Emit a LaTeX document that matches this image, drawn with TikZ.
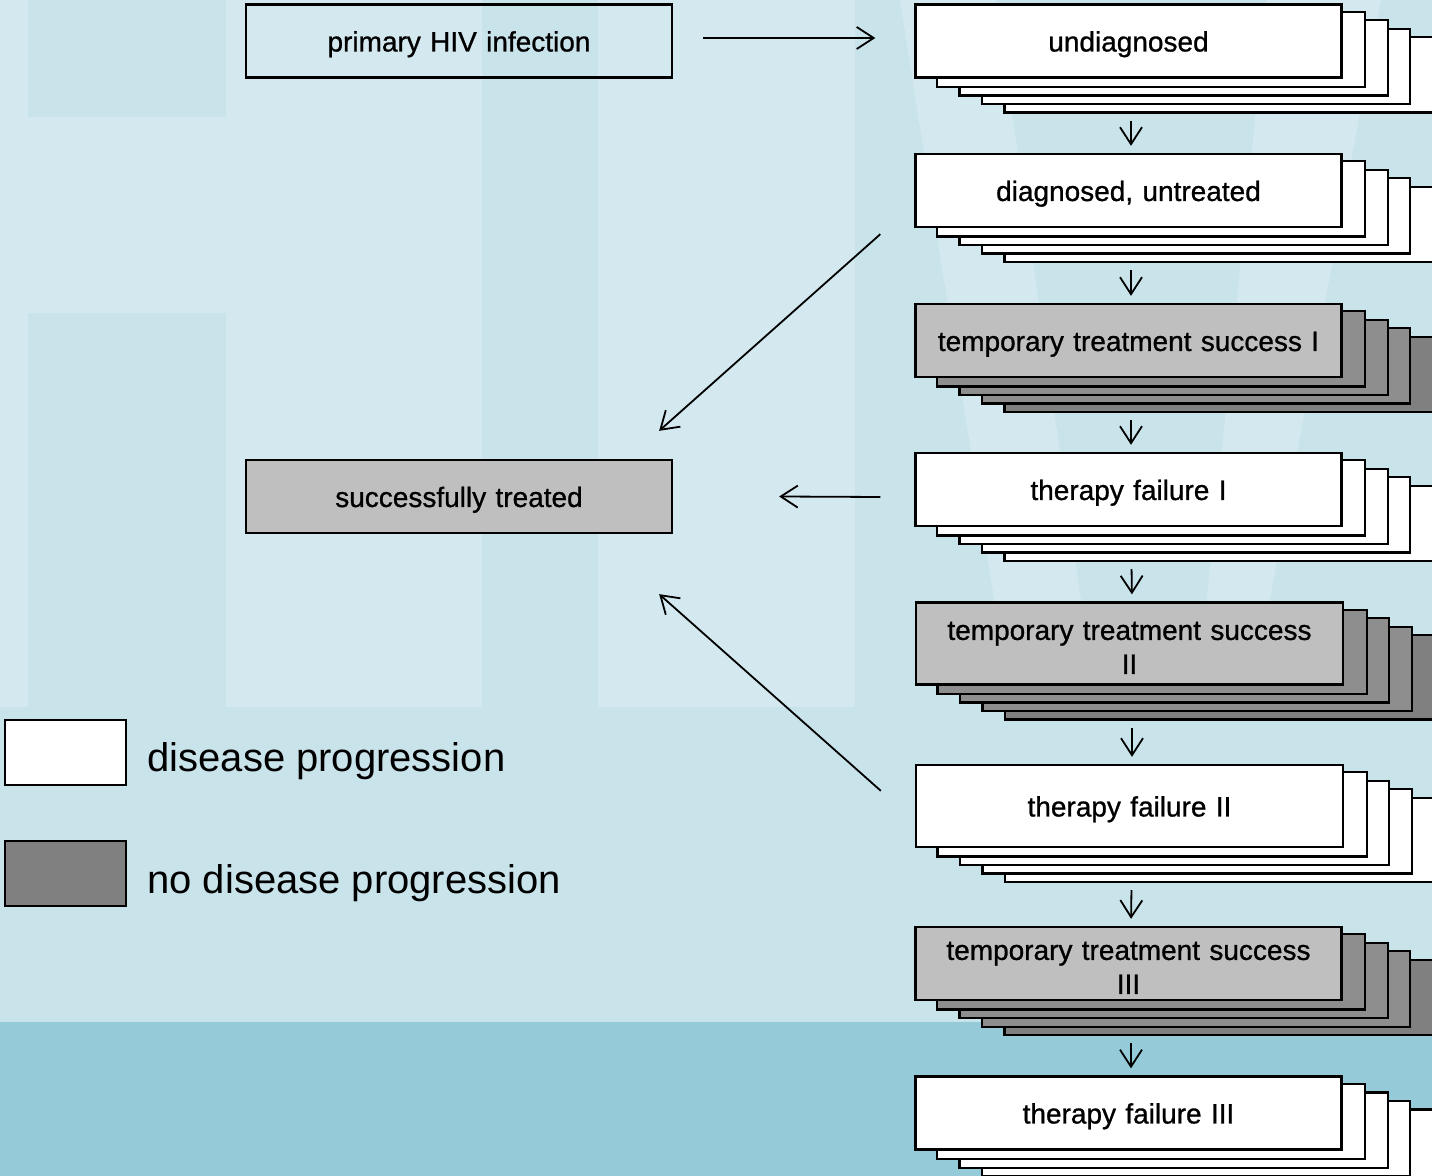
\documentclass[tikz,border=0pt]{standalone}
\usepackage{fontspec}
\setmainfont{Liberation Sans}
\newfontfamily\boxfont{Liberation Sans}[FakeBold=0.9]
\usetikzlibrary{arrows.meta,calc}
\pgfdeclarelayer{bg}
\pgfdeclarelayer{stk}
\pgfsetlayers{bg,stk,main}
\definecolor{bgbase}{HTML}{D4E8EF}
\definecolor{bgdark}{HTML}{C9E3EA}
\definecolor{bgband}{HTML}{95CBD9}
\definecolor{graymain}{HTML}{BFBFBF}
\definecolor{graylayer}{HTML}{8E8E8E}
\definecolor{graylast}{HTML}{808080}
\newcommand\mystack[3]{%
  \begin{pgfonlayer}{stk}
    \foreach \k/\f in {4/#3,3/#2,2/#2,1/#2} {
      \draw[line width=1.15pt, fill=\f]
        ($(#1.south west)+(\k*22.5,\k*8.5)$) rectangle ($(#1.north east)+(\k*22.5,\k*8.5)$);
    }
  \end{pgfonlayer}}
\tikzset{
  box/.style={draw=black, line width=1.15pt, minimum width=213pt, minimum height=36.5pt,
    inner sep=0pt, align=center, text width=205pt, font=\boxfont\fontsize{14}{17}\selectfont,
    execute at begin node={\rule{0pt}{13.4pt}}},
  wbox/.style={box, fill=white},
  gbox/.style={box, fill=graymain},
  tallbox/.style={minimum height=41pt, minimum width=213.5pt},
  legbox/.style={draw=black, line width=1.15pt, minimum width=60.5pt, minimum height=32.5pt, inner sep=0pt},
  legtext/.style={anchor=base west, inner sep=0pt, font=\fontsize{20}{24}\selectfont},
  arr/.style={-{Straight Barb[length=8.5pt,width=11pt]}, line width=0.9pt},
}
\begin{document}
\begin{tikzpicture}[x=0.5pt,y=-0.5pt]
\useasboundingbox (0,0) rectangle (1432,1176);
% background watermark
\begin{pgfonlayer}{bg}
  \fill[bgbase] (0,0) rectangle (1432,1176);
  \fill[bgdark] (28,0) rectangle (226,117);
  \fill[bgdark] (28,313) rectangle (226,707);
  \fill[bgdark] (482,0) rectangle (598,707);
  \fill[bgdark] (855,0) rectangle (1432,707);
  \fill[bgdark] (0,707) rectangle (1432,1022);
  \fill[bgbase] (900,0) -- (996,0) -- (1096,707) -- (1011,707) -- cycle;
  \fill[bgbase] (1267,0) -- (1381,0) -- (1250,707) -- (1196,707) -- cycle;
  \fill[bgband] (0,1022) rectangle (1432,1176);
\end{pgfonlayer}

% left column
\node[box] (prim) at (459,41) {primary HIV infection};
\node[gbox] (succ) at (459,496.5) {successfully treated};

% right column
\node[wbox] (undiag) at (1128.5,41) {undiagnosed};
\mystack{undiag}{white}{white}
\node[wbox] (diag) at (1128.5,190.5) {diagnosed, untreated};
\mystack{diag}{white}{white}
\node[gbox] (temp1) at (1128.5,340.5) {temporary treatment success I};
\mystack{temp1}{graylayer}{graylast}
\node[wbox] (tf1) at (1128.5,489.5) {therapy failure I};
\mystack{tf1}{white}{white}
\node[gbox, tallbox] (temp2) at (1129.5,643.5) {temporary treatment success\\II};
\mystack{temp2}{graylayer}{graylast}
\node[wbox, tallbox] (tf2) at (1129.5,806) {therapy failure II};
\mystack{tf2}{white}{white}
\node[gbox] (temp3) at (1128.5,963.5) {temporary treatment success\\III};
\mystack{temp3}{graylayer}{graylast}
\node[wbox] (tf3) at (1128.5,1113) {therapy failure III};
\mystack{tf3}{white}{white}

% legend
\node[legbox, fill=white] (legw) at (65.5,752.5) {};
\node[legtext] (legwt) at (147,772) {disease progression};
\node[legbox, fill=graylast] (legg) at (65.5,873.5) {};
\node[legtext] (leggt) at (147,893) {no disease progression};

% connectors
\draw[arr, shorten <=15pt, shorten >=19.5pt] ([yshift=1.5pt]prim.east) -- ([yshift=1.5pt]undiag.west);
\foreach \a/\b in {undiag/diag,diag/temp1,temp1/tf1,tf1/temp2,temp2/tf2,tf2/temp3,temp3/tf3}{
  \draw[arr, shorten <=21pt, shorten >=3.5pt] ([xshift=1.25pt]\a.south) -- ([xshift=1.25pt]\b.north);
}
\coordinate (d1s) at ($(diag.south west)+(-34,6)$);
\coordinate (d1e) at ($(succ.north east)+(-14,-28)$);
\draw[arr] (d1s) -- (d1e);
\coordinate (t1s) at ($(tf1.west)+(-34,7.5)$);
\coordinate (t1e) at ($(succ.east)+(106,0)$);
\draw[arr] (t1s) -- (t1e);
\coordinate (t2s) at ($(tf2.north west)+(-34,27)$);
\coordinate (t2e) at ($(succ.south east)+(-14,60)$);
\draw[arr] (t2s) -- (t2e);
\end{tikzpicture}
\end{document}
